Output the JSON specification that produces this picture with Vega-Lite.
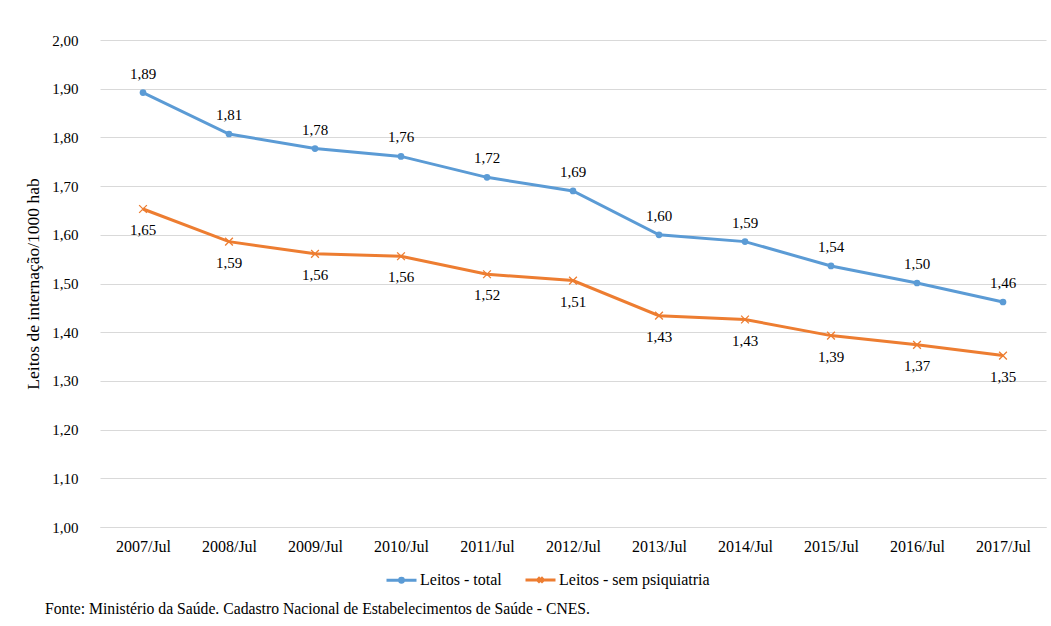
{
  "$schema": "https://vega.github.io/schema/vega-lite/v6.json",
  "width": 946,
  "height": 487,
  "autosize": "none",
  "padding": {"left": 100, "top": 40, "right": 5, "bottom": 99},
  "background": "white",
  "config": {
    "locale": {"number": {"decimal": ",", "thousands": ".", "grouping": [3], "currency": ["R$", ""]}},
    "font": "Liberation Serif",
    "view": {"stroke": null}
  },
  "data": {
    "values": [
      {"periodo": "2007/Jul", "serie": "Leitos - total", "valor": 1.892},
      {"periodo": "2008/Jul", "serie": "Leitos - total", "valor": 1.807},
      {"periodo": "2009/Jul", "serie": "Leitos - total", "valor": 1.777},
      {"periodo": "2010/Jul", "serie": "Leitos - total", "valor": 1.761},
      {"periodo": "2011/Jul", "serie": "Leitos - total", "valor": 1.718},
      {"periodo": "2012/Jul", "serie": "Leitos - total", "valor": 1.690},
      {"periodo": "2013/Jul", "serie": "Leitos - total", "valor": 1.600},
      {"periodo": "2014/Jul", "serie": "Leitos - total", "valor": 1.586},
      {"periodo": "2015/Jul", "serie": "Leitos - total", "valor": 1.536},
      {"periodo": "2016/Jul", "serie": "Leitos - total", "valor": 1.501},
      {"periodo": "2017/Jul", "serie": "Leitos - total", "valor": 1.462},
      {"periodo": "2007/Jul", "serie": "Leitos - sem psiquiatria", "valor": 1.653},
      {"periodo": "2008/Jul", "serie": "Leitos - sem psiquiatria", "valor": 1.586},
      {"periodo": "2009/Jul", "serie": "Leitos - sem psiquiatria", "valor": 1.561},
      {"periodo": "2010/Jul", "serie": "Leitos - sem psiquiatria", "valor": 1.556},
      {"periodo": "2011/Jul", "serie": "Leitos - sem psiquiatria", "valor": 1.519},
      {"periodo": "2012/Jul", "serie": "Leitos - sem psiquiatria", "valor": 1.506},
      {"periodo": "2013/Jul", "serie": "Leitos - sem psiquiatria", "valor": 1.434},
      {"periodo": "2014/Jul", "serie": "Leitos - sem psiquiatria", "valor": 1.426},
      {"periodo": "2015/Jul", "serie": "Leitos - sem psiquiatria", "valor": 1.393},
      {"periodo": "2016/Jul", "serie": "Leitos - sem psiquiatria", "valor": 1.374},
      {"periodo": "2017/Jul", "serie": "Leitos - sem psiquiatria", "valor": 1.352}
    ]
  },
  "title": {
    "text": "Fonte: Ministério da Saúde. Cadastro Nacional de Estabelecimentos de Saúde - CNES.",
    "orient": "bottom",
    "anchor": "start",
    "frame": "group",
    "dx": -55,
    "offset": 13,
    "font": "Liberation Serif",
    "fontSize": 15.7,
    "fontWeight": "normal",
    "color": "black"
  },
  "encoding": {
    "x": {
      "field": "periodo",
      "type": "ordinal",
      "sort": null,
      "axis": {
        "title": null,
        "labelAngle": 0,
        "labelFont": "Liberation Serif",
        "labelFontSize": 16,
        "labelColor": "black",
        "labelPadding": 11,
        "ticks": false,
        "domainColor": "#d9d9d9",
        "grid": false
      }
    },
    "y": {
      "field": "valor",
      "type": "quantitative",
      "scale": {"domain": [1, 2], "zero": false, "nice": false},
      "axis": {
        "title": "Leitos de internação/1000 hab",
        "titleFont": "Liberation Serif",
        "titleFontSize": 17.5,
        "titleFontWeight": "normal",
        "titleColor": "black",
        "titlePadding": 9,
        "values": [1, 1.1, 1.2, 1.3, 1.4, 1.5, 1.6, 1.7, 1.8, 1.9, 2],
        "format": ".2f",
        "labelFont": "Liberation Serif",
        "labelFontSize": 15,
        "labelColor": "black",
        "labelPadding": 22,
        "ticks": false,
        "domain": false,
        "gridColor": "#d9d9d9"
      }
    },
    "color": {
      "field": "serie",
      "type": "nominal",
      "scale": {"domain": ["Leitos - total", "Leitos - sem psiquiatria"], "range": ["#5B9BD5", "#ED7D31"]},
      "legend": {
        "title": null,
        "orient": "none",
        "direction": "horizontal",
        "legendX": 285,
        "legendY": 523,
        "symbolSize": 900,
        "symbolStrokeWidth": 3,
        "labelFont": "Liberation Serif",
        "labelFontSize": 16,
        "labelColor": "black",
        "labelOffset": 2,
        "columnPadding": 17,
        "encode": {
          "symbols": {
            "update": {
              "shape": {"signal": "datum.value === 'Leitos - total' ? 'M-1,0L1,0M-0.13,0A0.13,0.13 0 1,0 0.13,0A0.13,0.13 0 1,0 -0.13,0' : 'M-1,0L1,0M-0.17,-0.17L0.17,0.17M-0.17,0.17L0.17,-0.17'"},
              "fill": {"signal": "datum.value === 'Leitos - total' ? '#5B9BD5' : 'transparent'"},
              "stroke": {"signal": "datum.value === 'Leitos - total' ? '#5B9BD5' : '#ED7D31'"},
              "opacity": {"value": 1}
            }
          }
        }
      }
    }
  },
  "layer": [
    {"mark": {"type": "line", "strokeWidth": 3}},
    {
      "transform": [{"filter": "datum.serie === 'Leitos - total'"}],
      "mark": {"type": "point", "shape": "circle", "filled": true, "size": 45, "opacity": 1}
    },
    {
      "transform": [{"filter": "datum.serie === 'Leitos - sem psiquiatria'"}],
      "mark": {"type": "point", "shape": "M-1,-1L1,1M-1,1L1,-1", "filled": false, "size": 60, "strokeWidth": 1.3, "opacity": 1}
    },
    {
      "transform": [{"filter": "datum.serie === 'Leitos - total'"}],
      "mark": {"type": "text", "dy": -19, "font": "Liberation Serif", "fontSize": 15, "baseline": "middle"},
      "encoding": {
        "text": {"field": "valor", "type": "quantitative", "format": ".2f"},
        "color": {"value": "black"}
      }
    },
    {
      "transform": [{"filter": "datum.serie === 'Leitos - sem psiquiatria'"}],
      "mark": {"type": "text", "dy": 21, "font": "Liberation Serif", "fontSize": 15, "baseline": "middle"},
      "encoding": {
        "text": {"field": "valor", "type": "quantitative", "format": ".2f"},
        "color": {"value": "black"}
      }
    }
  ]
}
